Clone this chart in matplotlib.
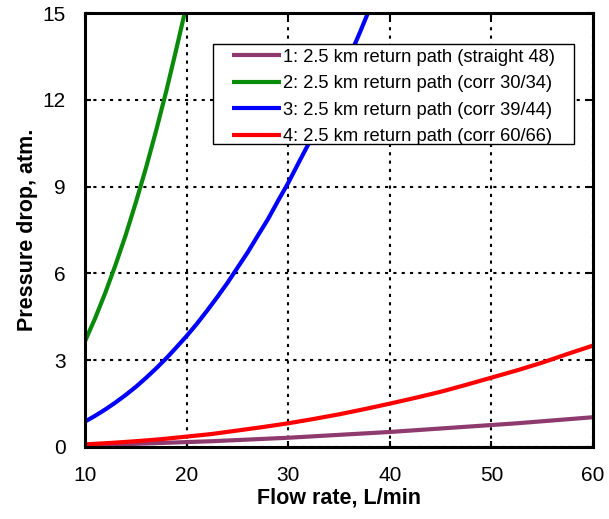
import matplotlib.pyplot as plt
from matplotlib.patches import Rectangle

plt.rcParams['font.family'] = ['Liberation Sans', 'DejaVu Sans']

# Values (flow rate L/min -> pressure drop atm)
flow_1 = [10, 12.5, 15, 17.5, 20, 22.5, 25, 27.5, 30, 32.5, 35, 37.5, 40,
          42.5, 45, 47.5, 50, 52.5, 55, 57.5, 60]
drop_1 = [0.05, 0.07, 0.10, 0.13, 0.16, 0.19, 0.23, 0.27, 0.31, 0.36, 0.41,
          0.46, 0.51, 0.57, 0.63, 0.69, 0.75, 0.81, 0.88, 0.95, 1.02]

flow_2 = [10, 11, 12, 13, 14, 15, 16, 17, 18, 19, 20]
drop_2 = [3.65, 4.45, 5.33, 6.29, 7.32, 8.45, 9.65, 10.94, 12.31, 13.78, 15.3]

flow_3 = [10, 11, 12, 13, 14, 15, 16, 17, 18, 19, 20, 21, 22, 23, 24, 25,
          26, 27, 28, 29, 30, 31, 32, 33, 34, 35, 36, 37, 38, 39]
drop_3 = [0.87, 1.07, 1.29, 1.53, 1.79, 2.07, 2.38, 2.71, 3.06, 3.44, 3.83,
          4.25, 4.70, 5.17, 5.66, 6.19, 6.72, 7.30, 7.87, 8.51, 9.13, 9.81,
          10.48, 11.21, 11.93, 12.70, 13.48, 14.29, 15.14, 15.97]

flow_4 = [10, 12.5, 15, 17.5, 20, 22.5, 25, 27.5, 30, 32.5, 35, 37.5, 40,
          42.5, 45, 47.5, 50, 52.5, 55, 57.5, 60]
drop_4 = [0.08, 0.13, 0.19, 0.26, 0.35, 0.44, 0.56, 0.68, 0.81, 0.96, 1.12,
          1.30, 1.49, 1.69, 1.90, 2.14, 2.39, 2.64, 2.91, 3.21, 3.50]

labels = ['1: 2.5 km return path (straight 48)',
          '2: 2.5 km return path (corr 30/34)',
          '3: 2.5 km return path (corr 39/44)',
          '4: 2.5 km return path (corr 60/66)']
colors = ['#8e3a6f', '#0a8a0a', '#0000ff', '#ff0000']

x_ticks = [10, 20, 30, 40, 50, 60]
y_ticks = [0, 3, 6, 9, 12, 15]

fig = plt.figure(figsize=(6.09, 5.19), dpi=100)
ax = fig.add_axes([0.1396, 0.1393, 0.8341, 0.8351])

series = [(flow_1, drop_1), (flow_2, drop_2), (flow_3, drop_3), (flow_4, drop_4)]
for (x, y), lab, c in zip(series, labels, colors):
    ax.plot(x, y, color=c, lw=3, label=lab, solid_capstyle='butt')

ax.set_xlim(10, 60)
ax.set_ylim(0, 15)
ax.set_xticks(x_ticks)
ax.set_yticks(y_ticks)
ax.tick_params(direction='in', top=True, right=True, length=4, width=1.5,
               labelsize=15, pad=14)
ax.grid(True, color='black', linestyle=(0, (1.5, 2.5)), linewidth=1.5)
for s in ax.spines.values():
    s.set_linewidth(2.2)

ax.set_xlabel('Flow rate, L/min', fontsize=15.5, fontweight='bold', labelpad=2)
ax.set_ylabel('Pressure drop, atm.', fontsize=15.5, fontweight='bold', labelpad=3)

# legend box is wider than the entries (extra side padding), so draw frame by hand
ax.add_patch(Rectangle((0.252, 0.698), 0.7106, 0.231, transform=ax.transAxes,
                       facecolor='white', edgecolor='black', lw=1.0, zorder=4))
leg = ax.legend(loc='upper left', bbox_to_anchor=(0.289, 0.918), fontsize=13.2,
                frameon=False, handlelength=2.7, handletextpad=0.1,
                labelspacing=0.52, borderpad=0, borderaxespad=0)
leg.set_zorder(5)

fig.savefig('out.png', dpi=100)
